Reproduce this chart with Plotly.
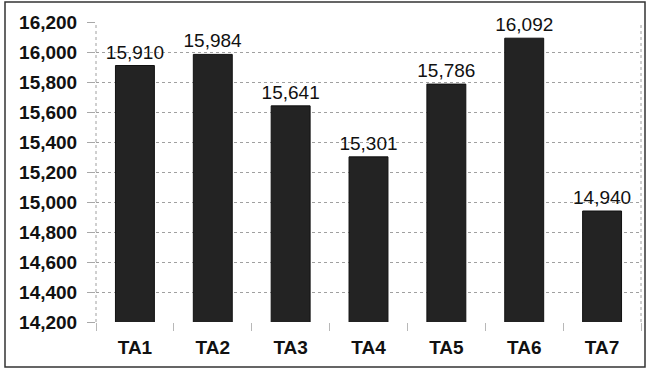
import plotly.graph_objects as go

categories = ["TA1", "TA2", "TA3", "TA4", "TA5", "TA6", "TA7"]
values = [15910, 15984, 15641, 15301, 15786, 16092, 14940]
y_ticks = [14200, 14400, 14600, 14800, 15000, 15200, 15400, 15600, 15800, 16000, 16200]

W, H = 647, 370
L, R, T, B = 96, 6, 22, 48

fig = go.Figure(go.Bar(
    x=categories,
    y=values,
    marker=dict(color="#232323", line=dict(color="#111111", width=1)),
    text=[f"{v:,}" for v in values],
    textposition="outside",
    textangle=0,
    constraintext="none",
    textfont=dict(family="Liberation Sans, Arial, sans-serif", size=19, color="#111111"),
    cliponaxis=False,
    width=0.5,
))

fig.update_layout(
    width=W, height=H,
    margin=dict(l=L, r=R, t=T, b=B),
    paper_bgcolor="white",
    plot_bgcolor="white",
    showlegend=False,
    font=dict(family="Liberation Sans, Arial, sans-serif", color="#111111"),
)

fig.update_yaxes(
    range=[14200, 16200],
    tickvals=y_ticks,
    ticktext=[f"<b>{v:,}</b>" for v in y_ticks],
    tickfont=dict(size=19, color="#111111"),
    showgrid=True,
    gridcolor="#a0a0a0",
    griddash="dot",
    gridwidth=1,
    ticks="outside",
    ticklen=8,
    tickcolor="#a8a8a8",
    ticklabelstandoff=6,
    zeroline=False,
    showline=False,
)

fig.update_xaxes(
    tickvals=categories,
    ticktext=[f"<b>{c}</b>" for c in categories],
    tickfont=dict(size=19, color="#111111"),
    tickson="boundaries",
    ticks="outside",
    ticklen=8,
    tickcolor="#b8b8b8",
    ticklabelstandoff=12,
    showgrid=False,
    showline=False,
)

# dotted frame lines at the left and right edges of the plot area
for xp in (0, 1):
    fig.add_shape(type="line", xref="paper", yref="paper",
                  x0=xp, x1=xp, y0=0, y1=1,
                  line=dict(color="#a0a0a0", width=1, dash="dot"))

# outer border around the whole chart
def px_x(p):
    return (p - L) / (W - L - R)

def px_y(p):
    return (H - B - p) / (H - T - B)

fig.add_shape(type="rect", xref="paper", yref="paper",
              x0=px_x(5), x1=px_x(645), y0=px_y(367), y1=px_y(2),
              line=dict(color="#333333", width=1.5), fillcolor="rgba(0,0,0,0)",
              layer="below")

fig.write_html("out.html")
